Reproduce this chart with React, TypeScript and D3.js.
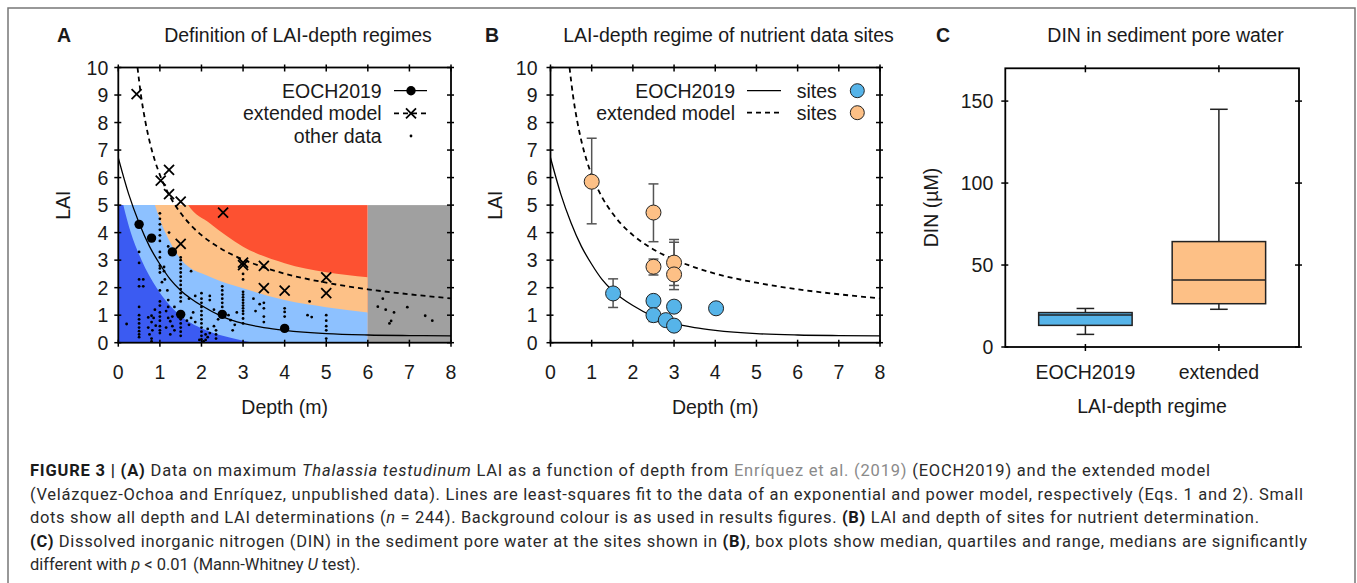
import React from "react";
import * as d3 from "d3";

// ---------- data ----------
const depthTicks = [0, 1, 2, 3, 4, 5, 6, 7, 8];
const laiTicks = [0, 1, 2, 3, 4, 5, 6, 7, 8, 9, 10];
const dinTicks = [0, 50, 100, 150];

// fitted curves (depth, LAI)
const eochCurve: [number, number][] = [
  [0, 6.72], [0.25, 5.4], [0.5, 4.35], [0.75, 3.5], [1, 2.85], [1.25, 2.3], [1.5, 1.9],
  [1.75, 1.6], [2, 1.35], [2.5, 0.95], [3, 0.7], [3.5, 0.55], [4, 0.45], [5, 0.33],
  [6, 0.28], [7, 0.26], [8, 0.25],
];
const extendedCurve: [number, number][] = [
  [0.462, 10], [0.55, 8.94], [0.65, 8.04], [0.75, 7.33], [0.875, 6.64], [1, 6.1],
  [1.25, 5.29], [1.5, 4.71], [1.75, 4.26], [2, 3.91], [2.5, 3.39], [3, 3.02], [3.5, 2.74],
  [4, 2.51], [5, 2.18], [6, 1.94], [7, 1.76], [8, 1.61],
];

// regime boundaries (panel A background)
const boundaryLow: [number, number][] = [
  [0, 5.8], [0.12, 5], [0.3, 4], [0.56, 3], [0.92, 2], [1.48, 1], [2.04, 0.5],
  [2.7, 0.18], [3.4, 0], [6, 0],
];
const boundaryMid: [number, number][] = [
  [0, 10], [0.6, 6.5], [0.88, 5], [1.1, 4.1], [1.3, 3.5], [1.52, 3.0], [2.2, 2.4],
  [3, 1.98], [4, 1.55], [5, 1.29], [6, 1.1],
];
const boundaryHigh: [number, number][] = [
  [0, 10], [1.3, 6.2], [1.68, 5], [2.2, 4.34], [3, 3.49], [4, 2.89], [5, 2.56], [6, 2.38],
];

const eochPoints: [number, number][] = [
  [0.5, 4.3], [0.8, 3.8], [1.3, 3.3], [1.5, 1.03], [2.5, 1.03], [4, 0.52],
];
const extendedPoints: [number, number][] = [
  [0.44, 9.03], [1.02, 5.89], [1.22, 6.28], [1.22, 5.4], [1.5, 5.13], [2.52, 4.73],
  [1.5, 3.59], [3.0, 2.91], [3.0, 2.82], [3.5, 2.79], [3.5, 1.98], [4.0, 1.89],
  [5.0, 2.37], [5.0, 1.8],
];
const otherData: [number, number][] = [
  [0.2, 0.68],
  [0.5, 3.3], [0.5, 2.9], [0.5, 2.3], [0.6, 2.3], [0.5, 2.05], [0.6, 2.05], [0.5, 1.3], [0.5, 1.0],
  [0.5, 0.85], [0.5, 0.7], [0.5, 0.55], [0.5, 0.42], [0.5, 0.3], [0.5, 0.2],
  [0.72, 0.92], [0.8, 0.98], [0.85, 0.9], [0.8, 0.75], [0.72, 0.55], [0.82, 0.45], [0.75, 0.3],
  [0.8, 0.15], [0.8, 0.05], [0.9, 0.62], [0.88, 1.2],
  [1.0, 4.7], [1.0, 4.5], [1.0, 4.3], [1.0, 4.1], [1.0, 3.9], [1.0, 3.7], [1.0, 3.3], [1.0, 3.1],
  [1.0, 2.8], [1.0, 2.7], [1.0, 2.55], [1.05, 2.2], [1.0, 1.9], [1.0, 1.5], [1.0, 1.35], [1.0, 1.1],
  [1.0, 0.95], [1.0, 0.8], [1.0, 0.6], [1.0, 0.45], [1.0, 0.35],
  [1.1, 2.75], [1.1, 2.6], [1.12, 2.3], [1.18, 1.9], [1.2, 1.3], [1.15, 1.15], [1.2, 0.9],
  [1.25, 0.78], [1.3, 0.6], [1.15, 0.55], [1.35, 0.45], [1.25, 0.3], [1.2, 1.55], [1.3, 0.95],
  [1.35, 1.3], [1.2, 3.5], [1.22, 4.0],
  [1.5, 3.1], [1.5, 3.0], [1.5, 2.85], [1.5, 2.7], [1.5, 2.55], [1.5, 2.4], [1.5, 2.25], [1.5, 2.1],
  [1.5, 1.95], [1.5, 1.8], [1.5, 1.65], [1.5, 1.5], [1.5, 0.85], [1.5, 0.7], [1.5, 0.55],
  [1.5, 0.4], [1.5, 0.25],
  [1.65, 0.8], [1.7, 0.65], [1.75, 0.9], [1.8, 1.1], [1.85, 0.75], [1.75, 2.6], [1.85, 1.7], [1.7, 1.6],
  [2.0, 1.8], [2.0, 1.6], [2.0, 1.45], [2.0, 1.3], [2.0, 1.15], [2.0, 1.0], [2.0, 0.85], [2.0, 0.7],
  [2.0, 0.55], [2.0, 0.4], [2.0, 0.25], [2.0, 0.12], [2.05, 0.05], [1.95, 0.1],
  [2.1, 0.3], [2.15, 0.5], [2.2, 0.35], [2.15, 0.2], [2.1, 0.1], [2.2, 1.7], [2.2, 1.55],
  [2.3, 0.6], [2.35, 0.45], [2.35, 0.3], [2.35, 0.15], [2.4, 0.85], [2.3, 1.2],
  [2.5, 2.05], [2.5, 1.9], [2.5, 1.75], [2.5, 1.6], [2.5, 1.45], [2.5, 1.3],
  [2.65, 1.0], [2.7, 0.82], [2.8, 0.65], [2.75, 0.45], [2.85, 1.1],
  [3.0, 2.5], [3.0, 2.3], [3.0, 1.85], [3.0, 1.75], [3.0, 1.65], [3.0, 1.55], [3.0, 1.45],
  [3.0, 1.35], [3.0, 1.25], [3.0, 1.15], [3.0, 1.05], [3.0, 0.88], [3.0, 0.7],
  [3.25, 1.6], [3.4, 1.4], [3.5, 1.45], [3.5, 1.25], [3.5, 0.95], [3.5, 0.75], [3.3, 1.15],
  [4.0, 1.25], [4.0, 1.12], [4.0, 0.95],
  [4.6, 1.5], [4.55, 1.0], [4.65, 0.93],
  [5.0, 1.0], [5.0, 0.8], [5.0, 0.6], [5.0, 0.45], [5.0, 0.15],
  [6.24, 1.31], [6.36, 1.6], [6.43, 1.2], [6.63, 1.1], [6.56, 0.79], [6.52, 0.7],
  [6.95, 1.29], [7.38, 0.98], [7.55, 0.8],
];

// panel B sites: depth, LAI, error low, error high
const sitesEochDepth = [1.52, 2.5, 2.5, 2.8, 3.0, 3.0, 4.02];
const sitesEochLai = [1.79, 1.52, 1.0, 0.82, 1.31, 0.62, 1.25];
const sitesEochLo = [1.28, null, 0.77, null, null, null, null];
const sitesEochHi = [2.32, null, 1.2, null, null, null, null];
const sitesExtDepth = [1.0, 2.5, 2.5, 3.0, 3.0];
const sitesExtLai = [5.85, 4.73, 2.76, 2.91, 2.48];
const sitesExtLo = [4.32, 3.67, 2.46, 1.93, 2.08];
const sitesExtHi = [7.43, 5.77, 3.04, 3.75, 3.65];

// panel C box plot
const boxCategories = ["EOCH2019", "extended"];
const boxMin = [7.7, 23.0];
const boxQ1 = [13.2, 26.4];
const boxMedian = [19.5, 40.8];
const boxQ3 = [21.0, 64.3];
const boxMax = [23.5, 145.0];

// ---------- styles ----------
const FONT = "'Liberation Sans', Arial, Helvetica, sans-serif";
const CAP_FONT = "Roboto, 'Liberation Sans', Arial, sans-serif";
const FS = 19.5;
const TXT = "#1a1a1a";
const C_DARKBLUE = "#3b5bf2";
const C_LIGHTBLUE = "#8dc1ff";
const C_ORANGE = "#fdc187";
const C_RED = "#fd5131";
const C_GREY = "#a0a0a0";
const C_SITE_BLUE = "#56b4e9";
const C_SITE_ORANGE = "#fdc086";

function LaiFrame({ x, y, labelOffset }: { x: any; y: any; labelOffset: number }) {
  const x0 = x(0), x1 = x(8), y0 = y(0), y1 = y(10);
  return (
    <g>
      <rect x={x0} y={y1} width={x1 - x0} height={y0 - y1} fill="none" stroke="#000" strokeWidth={1.8} />
      {depthTicks.map((t) => (
        <g key={"xt" + t}>
          <line x1={x(t)} x2={x(t)} y1={y0 - 3} y2={y0 + 4} stroke="#000" strokeWidth={1.5} />
          <line x1={x(t)} x2={x(t)} y1={y1 - 3} y2={y1 + 4} stroke="#000" strokeWidth={1.5} />
          <text x={x(t)} y={y0 + 36} textAnchor="middle" fontSize={FS} fill={TXT}>{t}</text>
        </g>
      ))}
      {laiTicks.map((t) => (
        <g key={"yt" + t}>
          <line x1={x0 - 4} x2={x0 + 3} y1={y(t)} y2={y(t)} stroke="#000" strokeWidth={1.5} />
          <line x1={x1 - 4} x2={x1 + 3} y1={y(t)} y2={y(t)} stroke="#000" strokeWidth={1.5} />
          <text x={x0 - labelOffset} y={y(t)} dy="0.36em" textAnchor="end" fontSize={FS} fill={TXT}>{t}</text>
        </g>
      ))}
      <text x={(x0 + x1) / 2} y={y0 + 71} textAnchor="middle" fontSize={FS} fill={TXT}>Depth (m)</text>
    </g>
  );
}

function Cross({ cx, cy, s = 5 }: { cx: number; cy: number; s?: number }) {
  return (
    <path d={`M${cx - s},${cy - s}L${cx + s},${cy + s}M${cx - s},${cy + s}L${cx + s},${cy - s}`}
      stroke="#000" strokeWidth={1.8} fill="none" />
  );
}

export default function App() {
  const xA = d3.scaleLinear().domain([0, 8]).range([118.3, 451]);
  const yL = d3.scaleLinear().domain([0, 10]).range([342.7, 67.5]);
  const xB = d3.scaleLinear().domain([0, 8]).range([550.5, 880]);
  const xC = d3.scaleLinear().domain([0.4, 2.6]).range([1005.3, 1299]);
  const yC = d3.scaleLinear().domain([0, 170]).range([347, 68.3]);

  const lineA = d3.line<[number, number]>().x((d) => xA(d[0])).y((d) => yL(d[1])).curve(d3.curveMonotoneX);
  const lineB = d3.line<[number, number]>().x((d) => xB(d[0])).y((d) => yL(d[1])).curve(d3.curveMonotoneX);
  const areaA = d3.area<[number, number]>().x((d) => xA(d[0])).y0(yL(0)).y1((d) => yL(d[1])).curve(d3.curveMonotoneX);

  const bandX0 = xA(0), bandX1 = xA(6), bandY0 = yL(0), bandY1 = yL(5);

  const boxW = 0.35; // half width in category units
  const capW = 0.066;

  return (
    <svg width={1357} height={583} style={{ position: "absolute", left: 0, top: 0, background: "#fff" }}
      fontFamily={FONT}>
      <defs>
        <clipPath id="bandClip">
          <rect x={bandX0} y={bandY1} width={bandX1 - bandX0} height={bandY0 - bandY1} />
        </clipPath>
        <clipPath id="plotA">
          <rect x={xA(0)} y={yL(10)} width={xA(8) - xA(0)} height={yL(0) - yL(10)} />
        </clipPath>
        <clipPath id="plotB">
          <rect x={xB(0)} y={yL(10)} width={xB(8) - xB(0)} height={yL(0) - yL(10)} />
        </clipPath>
      </defs>

      {/* figure frame */}
      <path d="M8,590L8,8L1355,8L1355,590" fill="none" stroke="#777" strokeWidth={1.5} />

      {/* ---------- Panel A ---------- */}
      <text x={64} y={42} textAnchor="middle" fontSize={FS} fontWeight="bold" fill={TXT}>A</text>
      <text x={298} y={42} textAnchor="middle" fontSize={FS} fill={TXT}>Definition of LAI-depth regimes</text>
      <g clipPath="url(#bandClip)">
        <rect x={bandX0} y={bandY1} width={bandX1 - bandX0} height={bandY0 - bandY1} fill={C_RED} />
        <path d={areaA(boundaryHigh) || ""} fill={C_ORANGE} />
        <path d={areaA(boundaryMid) || ""} fill={C_LIGHTBLUE} />
        <path d={areaA(boundaryLow) || ""} fill={C_DARKBLUE} />
      </g>
      <rect x={xA(6)} y={yL(5)} width={xA(8) - xA(6)} height={yL(0) - yL(5)} fill={C_GREY} />
      {otherData.map((d, i) => (
        <circle key={"o" + i} cx={xA(d[0])} cy={yL(d[1])} r={1.4} fill="#000" />
      ))}
      <g clipPath="url(#plotA)">
        <path d={lineA(eochCurve) || ""} fill="none" stroke="#000" strokeWidth={1.3} />
        <path d={lineA(extendedCurve) || ""} fill="none" stroke="#000" strokeWidth={1.8} strokeDasharray="5,4" />
      </g>
      {eochPoints.map((d, i) => (
        <circle key={"e" + i} cx={xA(d[0])} cy={yL(d[1])} r={4.7} fill="#000" />
      ))}
      {extendedPoints.map((d, i) => (
        <Cross key={"x" + i} cx={xA(d[0])} cy={yL(d[1])} />
      ))}
      <LaiFrame x={xA} y={yL} labelOffset={10} />
      <text transform={`translate(${70},${yL(5)}) rotate(-90)`} textAnchor="middle" fontSize={FS} fill={TXT}>LAI</text>
      {/* legend A */}
      <g fontSize={FS} fill={TXT}>
        <text x={381.7} y={90.7} dy="0.36em" textAnchor="end">EOCH2019</text>
        <line x1={394} x2={427} y1={90.7} y2={90.7} stroke="#000" strokeWidth={1.3} />
        <circle cx={411} cy={90.7} r={4.7} fill="#000" />
        <text x={381.7} y={113.3} dy="0.36em" textAnchor="end">extended model</text>
        <line x1={394} x2={427} y1={113.3} y2={113.3} stroke="#000" strokeWidth={1.8} strokeDasharray="5,4" />
        <Cross cx={411} cy={113.3} />
        <text x={381.7} y={136} dy="0.36em" textAnchor="end">other data</text>
        <circle cx={411} cy={136} r={1.4} fill="#000" />
      </g>

      {/* ---------- Panel B ---------- */}
      <text x={492} y={42} textAnchor="middle" fontSize={FS} fontWeight="bold" fill={TXT}>B</text>
      <text x={728.5} y={42} textAnchor="middle" fontSize={FS} fill={TXT}>LAI-depth regime of nutrient data sites</text>
      <g clipPath="url(#plotB)">
        <path d={lineB(eochCurve) || ""} fill="none" stroke="#000" strokeWidth={1.3} />
        <path d={lineB(extendedCurve) || ""} fill="none" stroke="#000" strokeWidth={1.8} strokeDasharray="5,4" />
      </g>
      {sitesExtDepth.map((d, i) => (
        <g key={"eb" + i} stroke="#555" strokeWidth={1.5}>
          <line x1={xB(d)} x2={xB(d)} y1={yL(sitesExtLo[i])} y2={yL(sitesExtHi[i])} />
          <line x1={xB(d) - 5} x2={xB(d) + 5} y1={yL(sitesExtLo[i])} y2={yL(sitesExtLo[i])} />
          <line x1={xB(d) - 5} x2={xB(d) + 5} y1={yL(sitesExtHi[i])} y2={yL(sitesExtHi[i])} />
        </g>
      ))}
      {sitesEochDepth.map((d, i) =>
        sitesEochLo[i] != null ? (
          <g key={"bb" + i} stroke="#555" strokeWidth={1.5}>
            <line x1={xB(d)} x2={xB(d)} y1={yL(sitesEochLo[i] as number)} y2={yL(sitesEochHi[i] as number)} />
            <line x1={xB(d) - 5} x2={xB(d) + 5} y1={yL(sitesEochLo[i] as number)} y2={yL(sitesEochLo[i] as number)} />
            <line x1={xB(d) - 5} x2={xB(d) + 5} y1={yL(sitesEochHi[i] as number)} y2={yL(sitesEochHi[i] as number)} />
          </g>
        ) : null
      )}
      {sitesExtDepth.map((d, i) => (
        <circle key={"so" + i} cx={xB(d)} cy={yL(sitesExtLai[i])} r={7.5} fill={C_SITE_ORANGE} stroke="#222" strokeWidth={1} />
      ))}
      {sitesEochDepth.map((d, i) => (
        <circle key={"sb" + i} cx={xB(d)} cy={yL(sitesEochLai[i])} r={7.5} fill={C_SITE_BLUE} stroke="#222" strokeWidth={1} />
      ))}
      <LaiFrame x={xB} y={yL} labelOffset={13} />
      <text transform={`translate(${502},${yL(5)}) rotate(-90)`} textAnchor="middle" fontSize={FS} fill={TXT}>LAI</text>
      {/* legend B */}
      <g fontSize={FS} fill={TXT}>
        <text x={735} y={90.7} dy="0.36em" textAnchor="end">EOCH2019</text>
        <line x1={747} x2={781} y1={90.7} y2={90.7} stroke="#000" strokeWidth={1.3} />
        <text x={796.7} y={90.7} dy="0.36em">sites</text>
        <circle cx={857.3} cy={90.7} r={7} fill={C_SITE_BLUE} stroke="#222" strokeWidth={1} />
        <text x={735} y={112.7} dy="0.36em" textAnchor="end">extended model</text>
        <line x1={747} x2={781} y1={112.7} y2={112.7} stroke="#000" strokeWidth={1.8} strokeDasharray="5,4" />
        <text x={796.7} y={112.7} dy="0.36em">sites</text>
        <circle cx={857.3} cy={112.7} r={7} fill={C_SITE_ORANGE} stroke="#222" strokeWidth={1} />
      </g>

      {/* ---------- Panel C ---------- */}
      <text x={943} y={42} textAnchor="middle" fontSize={FS} fontWeight="bold" fill={TXT}>C</text>
      <text x={1165.5} y={42} textAnchor="middle" fontSize={FS} fill={TXT}>DIN in sediment pore water</text>
      {boxCategories.map((c, i) => {
        const cx = xC(i + 1);
        const left = xC(i + 1 - boxW), right = xC(i + 1 + boxW);
        const cl = xC(i + 1 - capW), cr = xC(i + 1 + capW);
        return (
          <g key={"box" + i} stroke="#222" strokeWidth={1.5}>
            <line x1={cx} x2={cx} y1={yC(boxMax[i])} y2={yC(boxQ3[i])} />
            <line x1={cx} x2={cx} y1={yC(boxQ1[i])} y2={yC(boxMin[i])} />
            <line x1={cl} x2={cr} y1={yC(boxMax[i])} y2={yC(boxMax[i])} />
            <line x1={cl} x2={cr} y1={yC(boxMin[i])} y2={yC(boxMin[i])} />
            <rect x={left} y={yC(boxQ3[i])} width={right - left} height={yC(boxQ1[i]) - yC(boxQ3[i])}
              fill={i === 0 ? C_SITE_BLUE : C_SITE_ORANGE} />
            <line x1={left} x2={right} y1={yC(boxMedian[i])} y2={yC(boxMedian[i])} />
          </g>
        );
      })}
      <rect x={xC(0.4)} y={yC(170)} width={xC(2.6) - xC(0.4)} height={yC(0) - yC(170)} fill="none" stroke="#000" strokeWidth={1.8} />
      {dinTicks.map((t) => (
        <g key={"ct" + t}>
          <line x1={xC(0.4) - 4} x2={xC(0.4) + 3} y1={yC(t)} y2={yC(t)} stroke="#000" strokeWidth={1.5} />
          <line x1={xC(2.6) - 4} x2={xC(2.6) + 3} y1={yC(t)} y2={yC(t)} stroke="#000" strokeWidth={1.5} />
          <text x={xC(0.4) - 12} y={yC(t)} dy="0.36em" textAnchor="end" fontSize={FS} fill={TXT}>{t}</text>
        </g>
      ))}
      {boxCategories.map((c, i) => (
        <g key={"cx" + i}>
          <line x1={xC(i + 1)} x2={xC(i + 1)} y1={yC(0) - 3} y2={yC(0) + 4} stroke="#000" strokeWidth={1.5} />
          <line x1={xC(i + 1)} x2={xC(i + 1)} y1={yC(170) - 3} y2={yC(170) + 4} stroke="#000" strokeWidth={1.5} />
          <text x={xC(i + 1)} y={379} textAnchor="middle" fontSize={FS} fill={TXT}>{c}</text>
        </g>
      ))}
      <text x={1152} y={413} textAnchor="middle" fontSize={FS} fill={TXT}>LAI-depth regime</text>
      <text transform={`translate(${938},${207.5}) rotate(-90)`} textAnchor="middle" fontSize={FS} fill={TXT}>DIN (µM)</text>

      {/* ---------- Caption ---------- */}
      <g fontFamily={CAP_FONT} fontSize={16.5} fill="#2a2a2a" fontWeight={400}>
        <text x={30} y={476} textLength={1180} lengthAdjust="spacing">
          <tspan fontWeight={700} fill="#1a1a1a">FIGURE 3 | (A)</tspan> Data on maximum <tspan fontStyle="italic">Thalassia testudinum</tspan> LAI as a function of depth from <tspan fill="#8a8a8a">Enríquez et al. (2019)</tspan> (EOCH2019) and the extended model
        </text>
        <text x={30} y={499.5} textLength={1273} lengthAdjust="spacing">
          (Velázquez-Ochoa and Enríquez, unpublished data). Lines are least-squares fit to the data of an exponential and power model, respectively (Eqs. 1 and 2). Small
        </text>
        <text x={30} y={523} textLength={1229} lengthAdjust="spacing">
          dots show all depth and LAI determinations (<tspan fontStyle="italic">n</tspan> = 244). Background colour is as used in results figures. <tspan fontWeight={700} fill="#1a1a1a">(B)</tspan> LAI and depth of sites for nutrient determination.
        </text>
        <text x={30} y={546.5} textLength={1277} lengthAdjust="spacing">
          <tspan fontWeight={700} fill="#1a1a1a">(C)</tspan> Dissolved inorganic nitrogen (DIN) in the sediment pore water at the sites shown in <tspan fontWeight={700} fill="#1a1a1a">(B)</tspan>, box plots show median, quartiles and range, medians are significantly
        </text>
        <text x={30} y={570}>
          different with <tspan fontStyle="italic">p</tspan> {"<"} 0.01 (Mann-Whitney <tspan fontStyle="italic">U</tspan> test).
        </text>
      </g>
    </svg>
  );
}
